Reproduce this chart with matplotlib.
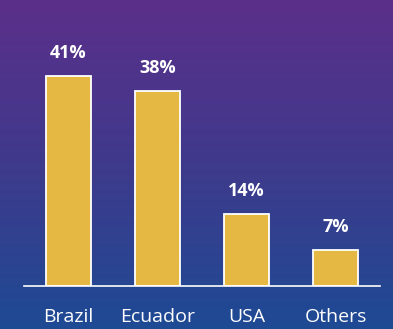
import numpy as np
import matplotlib
matplotlib.use("Agg")
import matplotlib.pyplot as plt
from matplotlib.colors import LinearSegmentedColormap

categories = ["Brazil", "Ecuador", "USA", "Others"]
shares = [41, 38, 14, 7]
labels = ["41%", "38%", "14%", "7%"]

W, H = 393, 329
fig = plt.figure(figsize=(W / 100, H / 100), dpi=100)

# vertical purple-to-blue gradient backdrop
bg = fig.add_axes([0, 0, 1, 1], zorder=0)
grad = LinearSegmentedColormap.from_list("bg", ["#5b2f8a", "#3f3a8c", "#1e4a94"])
bg.imshow(np.linspace(0, 1, 256).reshape(-1, 1), aspect="auto", cmap=grad,
          extent=[0, 1, 0, 1], origin="upper")
bg.set_axis_off()

ax = fig.add_axes([24 / W, (H - 286) / H, 356 / W, 286 / H], zorder=1)
ax.patch.set_alpha(0)
x = np.arange(len(categories))
bars = ax.bar(x, shares, width=0.506, color="#e4b843", edgecolor="white", linewidth=1.3)
ax.set_xlim(-0.5, 3.5)
ax.set_ylim(0, 41 * 286 / 210)

for b, lab in zip(bars, labels):
    ax.annotate(lab, (b.get_x() + b.get_width() / 2, b.get_height()),
                xytext=(0, 10), textcoords="offset points", ha="center", va="bottom",
                color="white", fontsize=13, fontweight="bold", family="Open Sans")

for s in ["top", "right", "left"]:
    ax.spines[s].set_visible(False)
ax.spines["bottom"].set_color("white")
ax.spines["bottom"].set_linewidth(1.2)
ax.set_yticks([])
ax.set_xticks(x)
ax.set_xticklabels(categories, color="white", fontsize=14, family="Open Sans")
ax.tick_params(axis="x", length=0, pad=16)

fig.savefig("out.png", dpi=100)
